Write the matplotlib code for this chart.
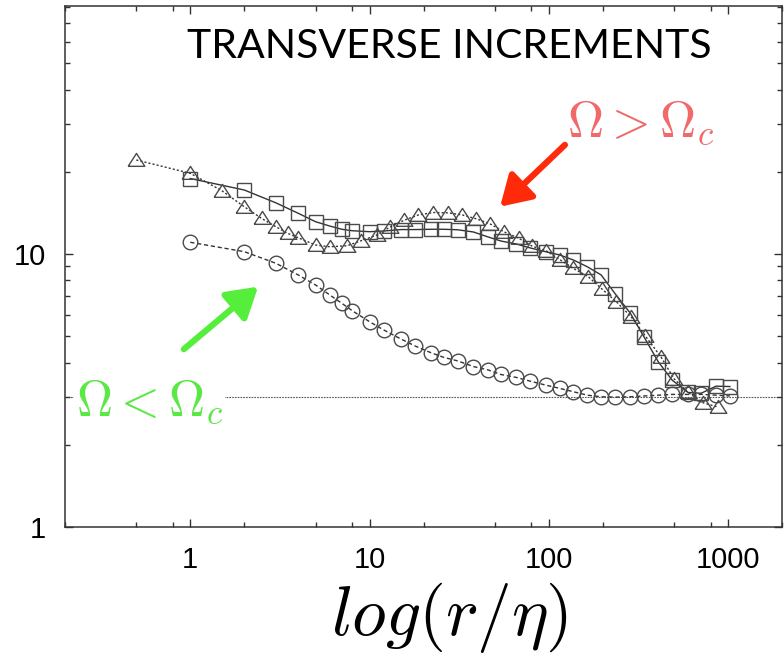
import matplotlib
matplotlib.use("Agg")
import matplotlib.pyplot as plt
from matplotlib.ticker import FixedLocator, NullFormatter, FixedFormatter
import numpy as np

plt.rcParams["mathtext.fontset"] = "cm"

# ---- data ----
x_tri = [0.5, 1, 1.5, 2, 2.5, 3, 3.5, 4, 5, 6, 7.5, 9, 11, 13, 15.5, 18.7, 22.7, 27.5, 33, 39.5,
         47, 56.5, 68, 81, 97, 116, 137, 166, 199, 238, 288, 345, 424, 500, 598, 726, 879]
y_tri = [22.1, 19.75, 17.06, 14.9, 13.5, 12.59, 11.9, 11.47, 10.79, 10.63, 10.72, 11.19, 11.74, 12.56,
         13.27, 13.9, 14.19, 14.15, 13.9, 13.45, 12.9, 12.04, 11.42, 10.67, 10.26, 9.51, 8.86, 8.26,
         7.42, 6.69, 5.89, 5.02, 4.18, 3.49, 3.11, 2.85, 2.75]

x_grid = [1, 2, 3, 4, 5, 6, 7, 8, 10, 12, 15, 18, 22, 26, 31, 38, 46, 54, 66, 79, 96, 115, 137, 164,
          196, 235, 285, 341, 408, 488, 598, 708, 857, 1024]
y_sq = [18.9, 17.16, 15.4, 14.1, 13.13, 12.66, 12.32, 12.17, 12.07, 12.14, 12.29, 12.29, 12.32, 12.32,
        12.27, 12.04, 11.54, 11.16, 10.88, 10.52, 10.2, 9.92, 9.51, 8.98, 8.38, 7.14, 6.07, 4.95, 4.03,
        3.45, 3.11, 3.09, 3.28, 3.27]
y_circ = [11.04, 10.2, 9.25, 8.38, 7.70, 7.08, 6.60, 6.20, 5.65, 5.27, 4.88, 4.60, 4.35, 4.18, 4.06,
          3.87, 3.76, 3.62, 3.53, 3.42, 3.31, 3.22, 3.13, 3.04, 3.00, 2.99, 3.00, 3.02, 3.04, 3.06,
          3.06, 3.06, 3.04, 3.02]
ref_level = 3.0

x_ticks = [1, 10, 100, 1000]
x_ticklabels = ["1", "10", "100", "1000"]
y_ticks = [1, 10]
y_ticklabels = ["1", "10"]

title = "TRANSVERSE INCREMENTS"
label_hi = r"$\Omega > \Omega_c$"
label_lo = r"$\Omega < \Omega_c$"
xlabel = r"$log(r/\eta)$"

# ---- figure ----
W, H = 784, 655
fig = plt.figure(figsize=(W / 100, H / 100), dpi=100)
ax = fig.add_axes([65 / W, 1 - 527 / H, (782 - 65) / W, (527 - 6) / H])

ax.set_xscale("log")
ax.set_yscale("log")
ax.set_xlim(0.2, 2000)
ax.set_ylim(1, 81)

line_col = "#333333"
mk_col = "#4a4a4a"
tri_marker = [(-1, -0.7), (1, -0.7), (0, 0.85), (-1, -0.7)]

ax.axhline(ref_level, color="#555555", lw=0.8, ls=(0, (1.5, 1)), zorder=1)

ax.plot(x_grid, y_sq, ls="-", color=line_col, lw=1.0, marker="s", ms=10.5,
        mfc="none", mec=mk_col, mew=1.0, zorder=3)
ax.plot(x_tri, y_tri, ls=(0, (1.5, 1.5)), color=line_col, lw=1.0, marker=tri_marker, ms=12,
        mfc="none", mec=mk_col, mew=1.0, zorder=3)
ax.plot(x_grid, y_circ, ls=(0, (3, 2)), color=line_col, lw=1.0, marker="o", ms=10.5,
        mfc="none", mec=mk_col, mew=1.0, zorder=3)

# ticks
for s in ax.spines.values():
    s.set_color("#333333")
    s.set_linewidth(1.1)
ax.xaxis.set_major_locator(FixedLocator(x_ticks))
ax.xaxis.set_major_formatter(FixedFormatter(x_ticklabels))
minor_x = [m * 10.0 ** e for e in range(-1, 4) for m in (2, 5, 8)]
ax.xaxis.set_minor_locator(FixedLocator(minor_x))
ax.xaxis.set_minor_formatter(NullFormatter())
ax.yaxis.set_major_locator(FixedLocator(y_ticks))
ax.yaxis.set_major_formatter(FixedFormatter(y_ticklabels))
minor_y = [m * 10.0 ** e for e in range(0, 2) for m in range(2, 10)]
ax.yaxis.set_minor_locator(FixedLocator(minor_y))
ax.yaxis.set_minor_formatter(NullFormatter())
ax.tick_params(which="both", direction="in", top=True, right=True, color="#333333", width=1.0)
ax.tick_params(which="major", length=6, pad=14, labelsize=21)
ax.tick_params(which="minor", length=3.5)
for lab in ax.get_xticklabels() + ax.get_yticklabels():
    lab.set_family("Liberation Sans")

ax.set_xlabel(xlabel, fontsize=50)
ax.xaxis.set_label_coords((450 - 65) / 717, (527 - 580) / 521)
ax.xaxis.label.set_va("top")

# annotations
fig.text(449 / W, 1 - 46 / H, title, ha="center", va="center", fontsize=29.5,
         family="Lato", color="black")
ax.text(327, 30.4, label_hi, ha="center", va="center", fontsize=36, color="#f06a6a")
ax.text(0.595, 2.87, label_lo, ha="center", va="center", fontsize=36, color="#5ae845",
        bbox=dict(facecolor="white", edgecolor="none", pad=1), zorder=5)
ax.annotate("", xy=(53.5, 14.9), xytext=(123, 25.1),
            arrowprops=dict(arrowstyle="-|>,head_length=0.9,head_width=0.55", lw=4.5,
                            color="#ff2a0a", mutation_scale=20, shrinkA=0, shrinkB=0))
ax.annotate("", xy=(2.39, 7.59), xytext=(0.92, 4.48),
            arrowprops=dict(arrowstyle="-|>,head_length=0.9,head_width=0.55", lw=4.5,
                            color="#55ee3a", mutation_scale=20, shrinkA=0, shrinkB=0))

fig.savefig("out.png", dpi=100)
